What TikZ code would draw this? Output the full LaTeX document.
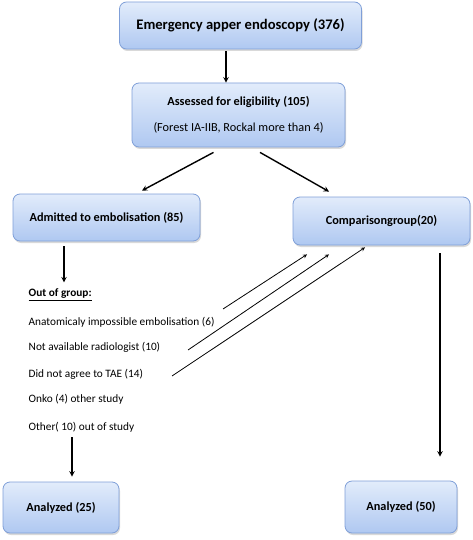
\documentclass[tikz,border=0pt]{standalone}
\usepackage{fontspec}
\setmainfont{Carlito}
\usetikzlibrary{shadows}
\definecolor{boxtop}{HTML}{E2ECFB}
\definecolor{boxbot}{HTML}{AFC8F1}
\definecolor{boxline}{HTML}{7F9FD8}
\begin{document}
\begin{tikzpicture}[x=1pt,y=-1pt,> = stealth,line width=1.4pt,
	box/.style={draw=boxline,line width=0.8pt,rounded corners=7pt,top color=boxtop,bottom color=boxbot,
		drop shadow={opacity=0.3,shadow xshift=1pt,shadow yshift=-2pt},
		align=center,inner sep=0pt,font=\fontsize{12.3}{14}\selectfont\bfseries},
	item/.style={anchor=west,inner sep=0pt,font=\fontsize{11.3}{13}\selectfont}]
	\useasboundingbox (0,0) rectangle (473,540);
	\node[box,minimum width=242pt,minimum height=47pt,font=\fontsize{14.6}{17}\selectfont\bfseries] (top) at (240.5,25.5) {Emergency apper endoscopy (376)};
	\node[box,minimum width=213pt,minimum height=64pt] (ass) at (238.5,115) {Assessed for eligibility (105)\\[12pt]\fontsize{12.3}{14}\selectfont\mdseries (Forest IA-IIB, Rockal more than 4)};
	\node[box,minimum width=187pt,minimum height=47pt] (adm) at (106.5,217.5) {Admitted to embolisation (85)};
	\node[box,minimum width=177pt,minimum height=48pt] (cmp) at (381.5,221) {Comparisongroup(20)};
	\node[box,minimum width=116pt,minimum height=51pt] (an25) at (61,507.5) {Analyzed (25)};
	\node[box,minimum width=112pt,minimum height=52pt] (an50) at (401,507) {Analyzed (50)};

	\node[item] (out) at (28,295) {\underline{\textbf{Out of group:}}};
	\node[item] (ana) at (28,322) {Anatomicaly impossible embolisation (6)};
	\node[item] (rad) at (28,347) {Not available radiologist (10)};
	\node[item] (tae) at (28,374) {Did not agree to TAE (14)};
	\node[item] (onk) at (28,399) {Onko (4) other study};
	\node[item] (oth) at (28,427) {Other( 10) out of study};

	\coordinate (d1) at (223,309);
	\coordinate (d2) at (188,350);
	\coordinate (d3) at (172,376);
	\coordinate (o2) at (72,437);

	\draw[->] ([xshift=-14.5pt,yshift=-2pt]top.south) -- ([xshift=-12.5pt]ass.north);
	\draw[->] ([xshift=-25pt,yshift=-5pt]ass.south) -- ([xshift=35.5pt,yshift=3pt]adm.north);
	\draw[->] ([xshift=21.5pt,yshift=-5pt]ass.south) -- ([xshift=-52.5pt,yshift=5pt]cmp.north);
	\draw[->] ([xshift=-42.5pt,yshift=-5pt]adm.south) -- ([xshift=36pt,yshift=6pt]out.north west);
	\draw[->] ([xshift=58.5pt,yshift=-8pt]cmp.south) -- ([xshift=39pt,yshift=24pt]an50.north);
	\draw[->] (o2) -- ([xshift=11pt,yshift=5pt]an25.north);
	\draw[->,line width=0.8pt] (d1) -- ([xshift=-74.5pt,yshift=-9pt]cmp.south);
	\draw[->,line width=0.8pt] (d2) -- ([xshift=-52.5pt,yshift=-9pt]cmp.south);
	\draw[->,line width=0.8pt] (d3) -- ([xshift=-16.5pt,yshift=-2pt]cmp.south);
\end{tikzpicture}
\end{document}
